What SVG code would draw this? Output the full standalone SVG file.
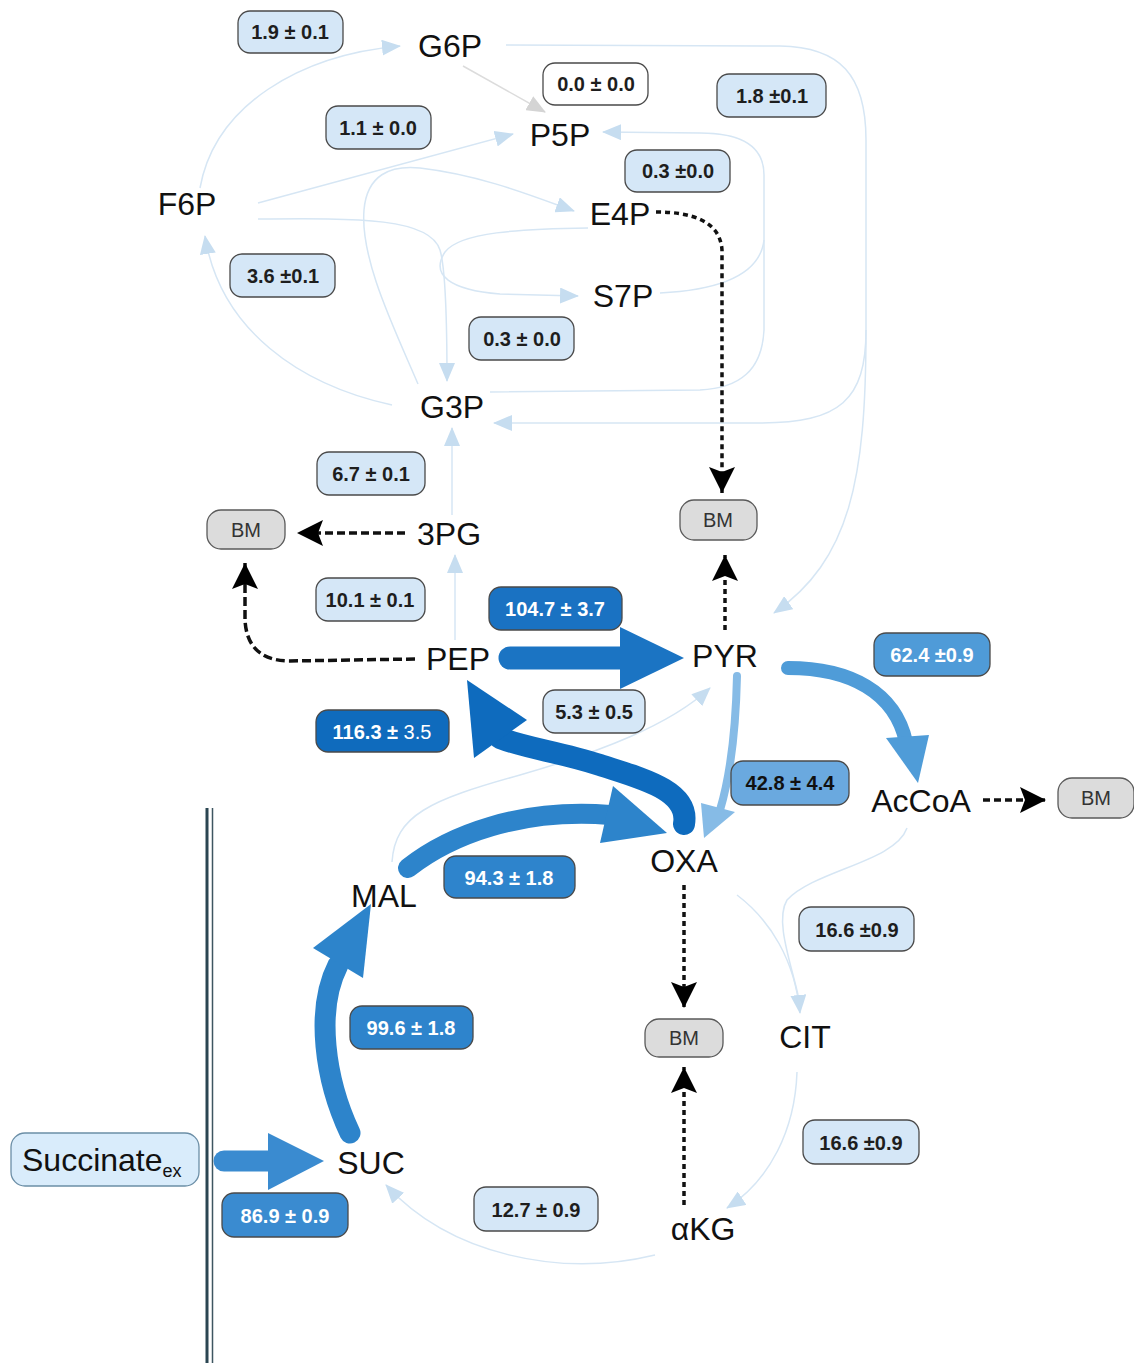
<svg xmlns="http://www.w3.org/2000/svg" width="1134" height="1363" viewBox="0 0 1134 1363">
<style>
.n{font-family:"Liberation Sans",Arial,sans-serif;font-size:32px;fill:#111;text-anchor:middle}
.bm rect{fill:#dcdcdc;stroke:#5a5a5a;stroke-width:1.3}
.bm text{font-family:"Liberation Sans",Arial,sans-serif;font-size:20px;fill:#333;text-anchor:middle}
.lb rect{stroke:#4a4a4a;stroke-width:1.3}
.lb text{font-family:"Liberation Sans",Arial,sans-serif;font-size:20px;font-weight:bold;text-anchor:middle}
.lt rect{fill:#d5e7f7}
.lt text{fill:#1e1e1e}
.lw rect{fill:#ffffff}
.lw text{fill:#1e1e1e}
.ld text{fill:#ffffff}
.t{fill:none;stroke:#d6e6f4;stroke-width:1.5}
.ta{marker-end:url(#al)}
.d{fill:none;stroke:#111;stroke-width:3.5;marker-end:url(#ab)}
.thick{fill:none;stroke-linecap:round}
</style>
<defs>
<marker id="al" markerUnits="userSpaceOnUse" markerWidth="20" markerHeight="16" refX="18" refY="8" orient="auto">
<path d="M0,0 L19,8 L0,16 z" fill="#c6ddf0"/>
</marker>
<marker id="ag" markerUnits="userSpaceOnUse" markerWidth="20" markerHeight="16" refX="18" refY="8" orient="auto">
<path d="M0,0 L19,8 L0,16 z" fill="#d4d4d4"/>
</marker>
<marker id="ab" markerUnits="userSpaceOnUse" markerWidth="28" markerHeight="28" refX="26" refY="13" orient="auto">
<path d="M0,0 L26,13 L0,26 L5,13 z" fill="#000"/>
</marker>
</defs>
<rect width="1134" height="1363" fill="#fff"/>

<g id="membrane">
<line x1="207" y1="808" x2="207" y2="1363" stroke="#2b4652" stroke-width="3"/>
<line x1="212.5" y1="808" x2="212.5" y2="1363" stroke="#3d5661" stroke-width="1.5"/>
</g>

<g id="connectors">
<path class="t ta" d="M 200 188 C 215 105 300 55 400 46"/>
<path class="t" d="M 463 66 L 545 112" style="stroke:#dcdcdc" marker-end="url(#ag)"/>
<path class="t ta" d="M 258 203 L 513 134"/>
<path class="t ta" d="M 418 384 C 395 330 360 260 364 210 C 367 175 390 165 420 168 C 480 175 530 195 574 211"/>
<path class="t ta" d="M 258 219 C 360 218 430 218 440 250 C 446 270 447 330 447 381"/>
<path class="t ta" d="M 588 228 C 520 229 460 232 445 252 C 430 275 450 290 500 294 L 578 296"/>
<path class="t ta" d="M 660 293 C 720 290 760 275 764 240 L 764 175 C 764 145 740 133 700 133 L 603 132"/>
<path class="t" d="M 490 392 L 700 390 C 740 388 762 370 764 330 L 764 240"/>
<path class="t" d="M 506 45 L 780 46 C 840 47 866 75 866 140 L 866 330"/>
<path class="t ta" d="M 866 330 C 866 400 840 423 760 423 L 494 423"/>
<path class="t ta" d="M 866 330 C 866 480 850 560 774 613"/>
<path class="t ta" d="M 392 405 C 300 385 220 330 205 236"/>
<path class="t ta" d="M 452 515 L 452 428"/>
<path class="t ta" d="M 455 640 L 455 555"/>
<path class="t ta" d="M 392 862 C 395 815 430 800 520 775 C 600 752 670 725 710 688"/>
<path class="t ta" d="M 737 895 C 770 920 795 960 800 1013"/>
<path class="t" d="M 907 828 C 895 862 815 870 787 900 C 775 920 790 960 798 995"/>
<path class="t ta" d="M 797 1072 C 795 1130 770 1180 727 1208"/>
<path class="t ta" d="M 655 1255 C 560 1278 450 1255 386 1185"/>

<path class="d" stroke-dasharray="8 4" d="M 405 533 L 297 533"/>
<path class="d" stroke-dasharray="9 4" d="M 415 659 L 290 661 C 255 661 246 640 245 620 L 245 563"/>
<path class="d" stroke-dasharray="5 4" d="M 656 212 C 690 212 720 220 722 250 L 722 493"/>
<path class="d" stroke-dasharray="5 4" d="M 725 630 L 725 555"/>
<path class="d" stroke-dasharray="7 4" d="M 983 800 L 1046 800"/>
<path class="d" stroke-dasharray="5 4" d="M 684 885 L 684 1008"/>
<path class="d" stroke-dasharray="5 4" d="M 684 1205 L 684 1067"/>

<g id="e-PEP-PYR" fill="#1b74c3">
<path class="thick" d="M 510 658 L 630 658" stroke="#1b74c3" stroke-width="23"/>
<polygon points="620,627 684,658 620,689"/>
</g>
<g id="e-PYR-AcCoA" fill="#4f9cd8">
<path class="thick" d="M 788 668 C 850 668 895 692 906 742" stroke="#4f9cd8" stroke-width="14"/>
<polygon points="886,738 918,783 929,735"/>
</g>
<g id="e-PYR-OXA" fill="#86bbe6">
<path class="thick" d="M 737 676 C 736 720 732 770 720 810" stroke="#86bbe6" stroke-width="8"/>
<polygon points="701,803 704,838 735,812"/>
</g>
<g id="e-OXA-PEP" fill="#0e6bbe">
<path class="thick" d="M 684 824 C 690 790 640 778 600 765 C 560 752 525 748 500 738" stroke="#0e6bbe" stroke-width="22"/>
<polygon points="467,680 527,720 474,758"/>
</g>
<g id="e-MAL-OXA" fill="#2d84cb">
<path class="thick" d="M 408 868 C 450 835 520 808 610 815" stroke="#2d84cb" stroke-width="20"/>
<polygon points="613,786 667,833 600,843"/>
</g>
<g id="e-SUC-MAL" fill="#2d84cb">
<path class="thick" d="M 350 1133 C 325 1080 315 1010 338 965" stroke="#2d84cb" stroke-width="21"/>
<polygon points="371,904 313,948 363,978"/>
</g>
<g id="e-SUCex-SUC" fill="#3a8bd0">
<path class="thick" d="M 224 1161 L 280 1161" stroke="#3a8bd0" stroke-width="21"/>
<polygon points="268,1133 324,1161 268,1190"/>
</g>
</g>

<g id="labels">
<g class="lb lt"><rect x="238" y="11" width="105" height="42" rx="12"/><text x="290" y="39">1.9 ± 0.1</text></g>
<g class="lb lw"><rect x="543" y="63" width="105" height="42" rx="12"/><text x="596" y="91">0.0 ± 0.0</text></g>
<g class="lb lt"><rect x="717" y="74" width="109" height="43" rx="12"/><text x="772" y="103">1.8 ±0.1</text></g>
<g class="lb lt"><rect x="326" y="106" width="105" height="43" rx="12"/><text x="378" y="135">1.1 ± 0.0</text></g>
<g class="lb lt"><rect x="625" y="150" width="105" height="42" rx="12"/><text x="678" y="178">0.3 ±0.0</text></g>
<g class="lb lt"><rect x="230" y="254" width="105" height="43" rx="12"/><text x="283" y="283">3.6 ±0.1</text></g>
<g class="lb lt"><rect x="469" y="317" width="105" height="43" rx="12"/><text x="522" y="346">0.3 ± 0.0</text></g>
<g class="lb lt"><rect x="317" y="452" width="108" height="43" rx="12"/><text x="371" y="481">6.7 ± 0.1</text></g>
<g class="lb lt"><rect x="316" y="578" width="109" height="43" rx="12"/><text x="370" y="607">10.1 ± 0.1</text></g>
<g class="lb ld"><rect x="489" y="587" width="133" height="43" rx="12" fill="#1a72c2"/><text x="555" y="616">104.7 ± 3.7</text></g>
<g class="lb ld"><rect x="874" y="633" width="116" height="43" rx="12" fill="#4f9bd8"/><text x="932" y="662">62.4 ±0.9</text></g>
<g class="lb lt"><rect x="543" y="690" width="102" height="43" rx="12"/><text x="594" y="719">5.3 ± 0.5</text></g>
<g class="lb ld"><rect x="316" y="710" width="133" height="42" rx="12" fill="#0f6bbd"/><text x="382" y="739">116.3 ± <tspan font-weight="normal">3.5</tspan></text></g>
<g class="lb"><rect x="731" y="761" width="118" height="44" rx="12" fill="#6aa9df"/><text x="790" y="790" fill="#111">42.8 ± 4.4</text></g>
<g class="lb ld"><rect x="444" y="856" width="131" height="42" rx="12" fill="#2e84cc"/><text x="509" y="885">94.3 ±  1.8</text></g>
<g class="lb lt"><rect x="799" y="907" width="115" height="44" rx="12"/><text x="857" y="937">16.6 ±0.9</text></g>
<g class="lb ld"><rect x="350" y="1006" width="123" height="43" rx="12" fill="#2e84cc"/><text x="411" y="1035">99.6  ± 1.8</text></g>
<g class="lb lt"><rect x="803" y="1120" width="116" height="44" rx="12"/><text x="861" y="1150">16.6 ±0.9</text></g>
<g class="lb lt"><rect x="474" y="1187" width="124" height="44" rx="12"/><text x="536" y="1217">12.7  ± 0.9</text></g>
<g class="lb ld"><rect x="222" y="1193" width="126" height="44" rx="12" fill="#3a8bd0"/><text x="285" y="1223">86.9  ± 0.9</text></g>
</g>

<g id="n-G6P"><text class="n" x="450" y="57">G6P</text></g>
<g id="n-P5P"><text class="n" x="560" y="146">P5P</text></g>
<g id="n-F6P"><text class="n" x="187" y="215">F6P</text></g>
<g id="n-E4P"><text class="n" x="620" y="225">E4P</text></g>
<g id="n-S7P"><text class="n" x="623" y="307">S7P</text></g>
<g id="n-G3P"><text class="n" x="452" y="418">G3P</text></g>
<g id="n-3PG"><text class="n" x="449" y="545">3PG</text></g>
<g id="n-PEP"><text class="n" x="458" y="670">PEP</text></g>
<g id="n-PYR"><text class="n" x="725" y="667">PYR</text></g>
<g id="n-AcCoA"><text class="n" x="921" y="812">AcCoA</text></g>
<g id="n-OXA"><text class="n" x="684" y="872">OXA</text></g>
<g id="n-MAL"><text class="n" x="384" y="907">MAL</text></g>
<g id="n-CIT"><text class="n" x="805" y="1048">CIT</text></g>
<g id="n-SUC"><text class="n" x="371" y="1174">SUC</text></g>
<g id="n-aKG"><text class="n" x="703" y="1240">αKG</text></g>

<g id="n-BM1" class="bm"><rect x="207" y="510" width="78" height="39" rx="14"/><text x="246" y="537">BM</text></g>
<g id="n-BM2" class="bm"><rect x="680" y="500" width="77" height="40" rx="14"/><text x="718" y="527">BM</text></g>
<g id="n-BM3" class="bm"><rect x="1058" y="778" width="76" height="40" rx="14"/><text x="1096" y="805">BM</text></g>
<g id="n-BM4" class="bm"><rect x="645" y="1019" width="78" height="38" rx="14"/><text x="684" y="1045">BM</text></g>

<g id="n-SUCex">
<rect x="11" y="1133" width="188" height="53" rx="14" fill="#d9ecfb" stroke="#6b8ea6" stroke-width="1.3"/>
<text x="22" y="1171" font-family="'Liberation Sans',Arial,sans-serif" font-size="32" fill="#111">Succinate<tspan font-size="18" dy="6">ex</tspan></text>
</g>
</svg>
